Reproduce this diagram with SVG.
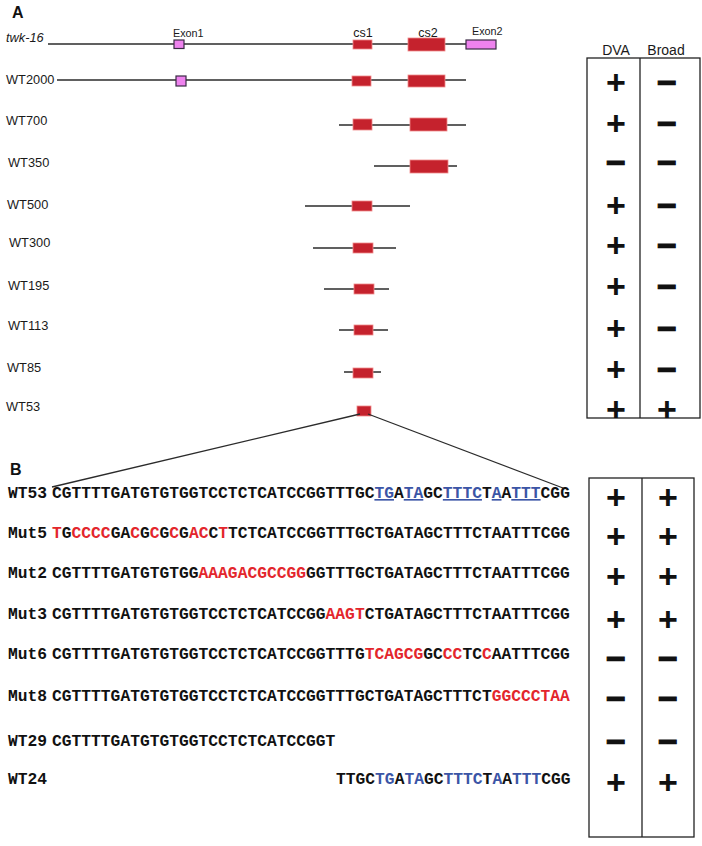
<svg xmlns="http://www.w3.org/2000/svg" width="702" height="846" viewBox="0 0 702 846">
<style>
.hd{font-family:"Liberation Sans",Arial,sans-serif;font-weight:bold;font-size:16px;fill:#111}
.lbl{font-family:"Liberation Sans",Arial,sans-serif;font-size:12.8px;fill:#1a1a1a}
.sm{font-family:"Liberation Sans",Arial,sans-serif;font-size:10.8px;fill:#1a1a1a}
.cst{font-family:"Liberation Sans",Arial,sans-serif;font-size:12.5px;fill:#1a1a1a}
.th{font-family:"Liberation Sans",Arial,sans-serif;font-size:14px;fill:#1a1a1a;text-anchor:middle}
.seq{font-family:"Liberation Mono","Courier New",monospace;font-weight:bold;font-size:16.3px;fill:#111}
.r{fill:#e3262c}
.b{fill:#3b55a6}
.u{text-decoration:underline}
.ln{stroke:#2b2b2b;stroke-width:1.3;fill:none}
.cs{fill:#c5222d;stroke:#ef8a8a;stroke-width:0.8}
.ex{fill:#ee82ee;stroke:#3a2a45;stroke-width:1.2}
.box{fill:none;stroke:#222;stroke-width:1.3}
.sg{font-family:"Liberation Sans",Arial,sans-serif;font-weight:bold;font-size:34px;text-anchor:middle;fill:#111}
.mn{stroke:#111;stroke-width:1.1}
</style>
<rect width="702" height="846" fill="#fff"/>
<text class="hd" x="12" y="18">A</text>
<text class="hd" x="10" y="475">B</text>

<g id="twk16">
<line class="ln" x1="48" y1="44" x2="466" y2="44"/>
<rect class="ex" x="174" y="40" width="10" height="8.5"/>
<rect class="cs" x="353" y="40" width="19" height="9"/>
<rect class="cs" x="408" y="38" width="37" height="13"/>
<rect class="ex" x="466" y="40" width="30" height="9"/>
<text class="lbl" x="6" y="42" font-style="italic" font-size="13.5">twk-16</text>
<text class="sm" x="173" y="37">Exon1</text>
<text class="cst" x="363" y="37" text-anchor="middle">cs1</text>
<text class="cst" x="428" y="37" text-anchor="middle">cs2</text>
<text class="sm" x="472" y="35">Exon2</text>
</g>
<g id="wt2000">
<line class="ln" x1="57" y1="80" x2="466" y2="80"/>
<rect class="ex" x="176" y="76" width="10" height="10"/>
<rect class="cs" x="352" y="76" width="19" height="10"/>
<rect class="cs" x="408" y="75" width="37" height="12"/>
<text class="lbl" x="6" y="84" font-size="13.8">WT2000</text>
</g>
<g id="wt700">
<line class="ln" x1="339" y1="125" x2="466" y2="125"/>
<rect class="cs" x="353" y="119" width="19" height="11"/>
<rect class="cs" x="410" y="118" width="37" height="13"/>
<text class="lbl" x="6" y="125">WT700</text>
</g>
<g id="wt350">
<line class="ln" x1="374" y1="166" x2="457" y2="166"/>
<rect class="cs" x="410" y="160" width="38" height="13"/>
<text class="lbl" x="8" y="167">WT350</text>
</g>
<g id="wt500">
<line class="ln" x1="305" y1="206" x2="410" y2="206"/>
<rect class="cs" x="352" y="201" width="20" height="10"/>
<text class="lbl" x="7" y="209">WT500</text>
</g>
<g id="wt300">
<line class="ln" x1="313" y1="248" x2="396" y2="248"/>
<rect class="cs" x="353" y="243" width="20" height="10"/>
<text class="lbl" x="9" y="247">WT300</text>
</g>
<g id="wt195">
<line class="ln" x1="324" y1="289" x2="389" y2="289"/>
<rect class="cs" x="354" y="284" width="20" height="10"/>
<text class="lbl" x="8" y="290">WT195</text>
</g>
<g id="wt113">
<line class="ln" x1="339" y1="330" x2="388" y2="330"/>
<rect class="cs" x="354" y="325" width="19" height="10"/>
<text class="lbl" x="8" y="330">WT113</text>
</g>
<g id="wt85">
<line class="ln" x1="344" y1="372" x2="381" y2="372"/>
<rect class="cs" x="353" y="368" width="20" height="10"/>
<text class="lbl" x="7" y="372">WT85</text>
</g>
<g id="wt53a">
<rect class="cs" x="357" y="406" width="14" height="10"/>
<text class="lbl" x="6" y="411">WT53</text>
</g>

<g id="connectors">
<line class="ln" x1="360" y1="414" x2="52" y2="487"/>
<line class="ln" x1="368" y1="414" x2="563" y2="488"/>
</g>

<g id="tableA">
<rect class="box" x="587" y="58" width="113" height="360"/>
<line class="box" x1="640" y1="58" x2="640" y2="418"/>
<text class="th" x="616" y="55">DVA</text>
<text class="th" x="666" y="55">Broad</text>
<text class="sg" x="616" y="94">+</text><text class="sg mn" x="667" y="94">−</text>
<text class="sg" x="616" y="135">+</text><text class="sg mn" x="667" y="135">−</text>
<text class="sg mn" x="616" y="174">−</text><text class="sg mn" x="667" y="174">−</text>
<text class="sg" x="616" y="217">+</text><text class="sg mn" x="667" y="217">−</text>
<text class="sg" x="616" y="257">+</text><text class="sg mn" x="667" y="257">−</text>
<text class="sg" x="616" y="298">+</text><text class="sg mn" x="667" y="298">−</text>
<text class="sg" x="616" y="340">+</text><text class="sg mn" x="667" y="340">−</text>
<text class="sg" x="616" y="381">+</text><text class="sg mn" x="667" y="381">−</text>
<text class="sg" x="616" y="421">+</text><text class="sg" x="667" y="421">+</text>
</g>

<g id="seq-wt53">
<text class="seq" x="8" y="498">WT53</text>
<text class="seq" x="52" y="498">CGTTTTGATGTGTGGTCCTCTCATCCGGTTTGC<tspan class="b u">TG</tspan>A<tspan class="b u">TA</tspan>GC<tspan class="b u">TTTC</tspan>T<tspan class="b u">A</tspan>A<tspan class="b u">TTT</tspan>CGG</text>
</g>
<g id="seq-mut5">
<text class="seq" x="8" y="538">Mut5</text>
<text class="seq" x="52" y="538"><tspan class="r">T</tspan>G<tspan class="r">CCCC</tspan>GA<tspan class="r">C</tspan>G<tspan class="r">C</tspan>G<tspan class="r">C</tspan>G<tspan class="r">AC</tspan>C<tspan class="r">T</tspan>TCTCATCCGGTTTGCTGATAGCTTTCTAATTTCGG</text>
</g>
<g id="seq-mut2">
<text class="seq" x="8" y="578">Mut2</text>
<text class="seq" x="52" y="578">CGTTTTGATGTGTGG<tspan class="r">AAAGACGCCGG</tspan>GGTTTGCTGATAGCTTTCTAATTTCGG</text>
</g>
<g id="seq-mut3">
<text class="seq" x="8" y="619">Mut3</text>
<text class="seq" x="52" y="619">CGTTTTGATGTGTGGTCCTCTCATCCGG<tspan class="r">AAGT</tspan>CTGATAGCTTTCTAATTTCGG</text>
</g>
<g id="seq-mut6">
<text class="seq" x="8" y="659">Mut6</text>
<text class="seq" x="52" y="659">CGTTTTGATGTGTGGTCCTCTCATCCGGTTTG<tspan class="r">TCAGCG</tspan>GC<tspan class="r">CC</tspan>TC<tspan class="r">C</tspan>AATTTCGG</text>
</g>
<g id="seq-mut8">
<text class="seq" x="8" y="701">Mut8</text>
<text class="seq" x="52" y="701">CGTTTTGATGTGTGGTCCTCTCATCCGGTTTGCTGATAGCTTTCT<tspan class="r">GGCCCTAA</tspan></text>
</g>
<g id="seq-wt29">
<text class="seq" x="8" y="746">WT29</text>
<text class="seq" x="52" y="746">CGTTTTGATGTGTGGTCCTCTCATCCGGT</text>
</g>
<g id="seq-wt24">
<text class="seq" x="8" y="784">WT24</text>
<text class="seq" x="336" y="784">TTGC<tspan class="b">TG</tspan>A<tspan class="b">TA</tspan>GC<tspan class="b">TTTC</tspan>T<tspan class="b">A</tspan>A<tspan class="b">TTT</tspan>CGG</text>
</g>

<g id="tableB">
<rect class="box" x="589" y="478" width="105" height="359"/>
<line class="box" x1="642" y1="478" x2="642" y2="837"/>
<text class="sg" x="616" y="509">+</text><text class="sg" x="668" y="509">+</text>
<text class="sg" x="616" y="548">+</text><text class="sg" x="668" y="548">+</text>
<text class="sg" x="616" y="588">+</text><text class="sg" x="668" y="588">+</text>
<text class="sg" x="616" y="631">+</text><text class="sg" x="668" y="631">+</text>
<text class="sg mn" x="616" y="670">−</text><text class="sg mn" x="668" y="670">−</text>
<text class="sg mn" x="616" y="710">−</text><text class="sg mn" x="668" y="710">−</text>
<text class="sg mn" x="616" y="753">−</text><text class="sg mn" x="668" y="753">−</text>
<text class="sg" x="616" y="794">+</text><text class="sg" x="668" y="794">+</text>
</g>
</svg>
